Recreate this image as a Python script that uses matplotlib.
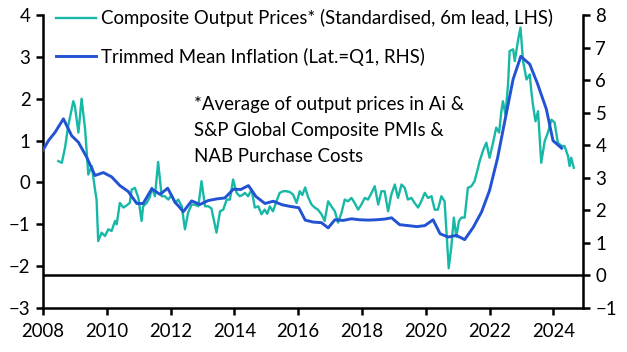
import matplotlib
matplotlib.use("Agg")
import matplotlib.pyplot as plt

# ---- data ----
composite_x = [2008.48, 2008.59, 2008.69, 2008.79, 2008.95, 2009.00, 2009.11, 2009.21, 2009.32, 2009.42,
               2009.53, 2009.63, 2009.68, 2009.73, 2009.84, 2009.94, 2010.05, 2010.15, 2010.26, 2010.31,
               2010.41, 2010.52, 2010.62, 2010.72, 2010.78, 2010.88, 2010.99, 2011.09, 2011.14, 2011.25,
               2011.35, 2011.41, 2011.51, 2011.61, 2011.72, 2011.82, 2011.93, 2012.03, 2012.14, 2012.24,
               2012.35, 2012.45, 2012.55, 2012.66, 2012.76, 2012.87, 2012.97, 2013.08, 2013.18, 2013.28,
               2013.44, 2013.55, 2013.65, 2013.76, 2013.86, 2013.96, 2014.07, 2014.17, 2014.25, 2014.33,
               2014.43, 2014.54, 2014.64, 2014.75, 2014.85, 2014.95, 2015.03, 2015.11, 2015.21, 2015.32,
               2015.42, 2015.53, 2015.63, 2015.74, 2015.84, 2015.95, 2016.05, 2016.13, 2016.22, 2016.31,
               2016.42, 2016.52, 2016.62, 2016.73, 2016.83, 2016.94, 2017.04, 2017.15, 2017.25, 2017.36,
               2017.46, 2017.56, 2017.67, 2017.77, 2017.88, 2017.98, 2018.09, 2018.19, 2018.30, 2018.40,
               2018.51, 2018.61, 2018.71, 2018.82, 2018.92, 2019.03, 2019.13, 2019.24, 2019.34, 2019.44,
               2019.55, 2019.65, 2019.76, 2019.86, 2019.97, 2020.07, 2020.18, 2020.28, 2020.38, 2020.49,
               2020.59, 2020.72, 2020.80, 2020.88, 2020.96, 2021.04, 2021.12, 2021.22, 2021.32, 2021.43,
               2021.53, 2021.64, 2021.69, 2021.79, 2021.90, 2022.00, 2022.11, 2022.21, 2022.30, 2022.37,
               2022.42, 2022.50, 2022.58, 2022.63, 2022.74, 2022.79, 2022.90, 2022.97, 2023.05, 2023.16,
               2023.26, 2023.31, 2023.36, 2023.44, 2023.52, 2023.62, 2023.73, 2023.83, 2023.94, 2024.04,
               2024.14, 2024.26, 2024.35, 2024.46, 2024.51, 2024.56, 2024.64]
composite_y = [0.51, 0.47, 0.83, 1.35, 1.94, 1.82, 1.19, 2.00, 1.27, 0.19,
               0.39, -0.17, -0.41, -1.40, -1.20, -1.28, -1.12, -1.16, -0.92, -1.00,
               -0.49, -0.60, -0.55, -0.49, -0.17, -0.13, -0.37, -0.92, -0.57, -0.49,
               -0.35, -0.13, -0.33, 0.49, -0.33, -0.33, -0.41, -0.30, -0.49, -0.41,
               -0.57, -1.12, -0.72, -0.53, -0.53, -0.57, 0.03, -0.57, -0.57, -0.62,
               -1.20, -0.69, -0.65, -0.41, -0.41, 0.07, -0.25, -0.33, -0.30, -0.25,
               -0.33, -0.17, -0.60, -0.57, -0.76, -0.65, -0.75, -0.57, -0.69, -0.45,
               -0.25, -0.21, -0.21, -0.23, -0.29, -0.49, -0.21, -0.30, -0.12, -0.35,
               -0.53, -0.60, -0.65, -0.76, -0.92, -0.45, -0.57, -0.69, -0.96, -0.72,
               -0.41, -0.45, -0.37, -0.49, -0.65, -0.53, -0.37, -0.41, -0.25, -0.09,
               -0.53, -0.21, -0.21, -0.69, -0.29, -0.05, -0.37, -0.05, -0.13, -0.41,
               -0.37, -0.49, -0.60, -0.45, -0.25, -0.37, -0.33, -0.65, -0.65, -0.33,
               -0.45, -2.05, -1.55, -0.84, -1.30, -0.92, -0.84, -0.84, -0.13, -0.09,
               0.03, 0.35, 0.51, 0.75, 0.95, 0.59, 0.95, 1.31, 1.19, 1.70,
               1.94, 1.62, 2.34, 3.14, 3.18, 2.90, 3.42, 3.70, 2.90, 2.46,
               2.58, 2.18, 1.86, 1.46, 1.70, 0.47, 0.99, 1.19, 1.50, 1.43,
               0.95, 0.87, 0.87, 0.63, 0.39, 0.59, 0.35]

trimmed_x = [2008.00, 2008.17, 2008.38, 2008.64, 2008.90, 2009.11, 2009.37, 2009.63, 2009.89, 2010.15,
             2010.41, 2010.67, 2010.94, 2011.14, 2011.41, 2011.67, 2011.91, 2012.14, 2012.40, 2012.66,
             2012.92, 2013.18, 2013.44, 2013.70, 2013.97, 2014.20, 2014.44, 2014.68, 2014.96, 2015.22,
             2015.50, 2015.75, 2016.02, 2016.22, 2016.47, 2016.73, 2016.94, 2017.15, 2017.41, 2017.67,
             2017.93, 2018.20, 2018.45, 2018.70, 2018.93, 2019.18, 2019.45, 2019.72, 2019.97, 2020.23,
             2020.45, 2020.70, 2020.96, 2021.22, 2021.49, 2021.75, 2022.00, 2022.25, 2022.50, 2022.74,
             2022.98, 2023.26, 2023.50, 2023.78, 2023.99, 2024.26]
trimmed_y = [3.85, 4.14, 4.40, 4.81, 4.29, 4.09, 3.63, 3.07, 3.16, 3.03,
             2.76, 2.58, 2.21, 2.21, 2.66, 2.49, 2.68, 2.25, 1.96, 2.29,
             2.18, 2.30, 2.35, 2.38, 2.65, 2.64, 2.76, 2.42, 2.21, 2.28,
             2.17, 2.12, 2.08, 1.70, 1.64, 1.62, 1.46, 1.71, 1.69, 1.74,
             1.71, 1.70, 1.71, 1.73, 1.77, 1.56, 1.53, 1.50, 1.53, 1.71,
             1.28, 1.18, 1.23, 1.10, 1.48, 1.95, 2.61, 3.60, 4.85, 6.03,
             6.73, 6.49, 5.90, 5.11, 4.14, 3.91]

x_ticks = [2008, 2010, 2012, 2014, 2016, 2018, 2020, 2022, 2024]
left_ticks = [-3, -2, -1, 0, 1, 2, 3, 4]
right_ticks = [-1, 0, 1, 2, 3, 4, 5, 6, 7, 8]

label_comp = "Composite Output Prices* (Standardised, 6m lead, LHS)"
label_trim = "Trimmed Mean Inflation (Lat.=Q1, RHS)"
note = "*Average of output prices in Ai &\nS&P Global Composite PMIs &\nNAB Purchase Costs"

TEAL = "#17B8A6"
BLUE = "#2352D3"
FS = 13.4

plt.rcParams['font.family'] = ['Lato', 'DejaVu Sans']

fig = plt.figure(figsize=(6.27, 3.52), dpi=100)
ax = fig.add_axes([43/627, 1-308/352, (583-43)/627, (308-15)/352])
ax2 = ax.twinx()

l1, = ax.plot(composite_x, composite_y, color=TEAL, lw=1.7, zorder=3)
l2, = ax2.plot(trimmed_x, trimmed_y, color=BLUE, lw=2.1, zorder=4)
ax2.axhline(0, color="black", lw=1.8, zorder=2)

ax.set_xlim(2008, 2024.93)
ax.set_ylim(-3, 4)
ax2.set_ylim(-1, 8)
ax.set_xticks(x_ticks)
ax.set_yticks(left_ticks)
ax2.set_yticks(right_ticks)

for a in (ax, ax2):
    a.spines['top'].set_visible(False)
    for s in a.spines.values():
        s.set_linewidth(1.8)
    a.tick_params(direction='out', length=5, width=1.8, labelsize=FS, colors='black')
ax.spines['right'].set_visible(False)
ax2.spines['left'].set_visible(False)
ax2.spines['bottom'].set_visible(False)
ax.tick_params(axis='x', pad=6)
ax.tick_params(axis='y', pad=4)
ax2.tick_params(axis='y', pad=4)
ax.patch.set_visible(False)

ax2.legend([l1, l2], [label_comp, label_trim], loc='upper left',
           bbox_to_anchor=(0.01, 1.045), frameon=False, fontsize=FS,
           handlelength=2.15, handletextpad=0.3, labelspacing=1.1,
           borderaxespad=0)

ax.text(0.279, 0.725, note, transform=ax.transAxes, fontsize=FS,
        ha='left', va='top', linespacing=1.66)

fig.savefig("out.png", dpi=100)
